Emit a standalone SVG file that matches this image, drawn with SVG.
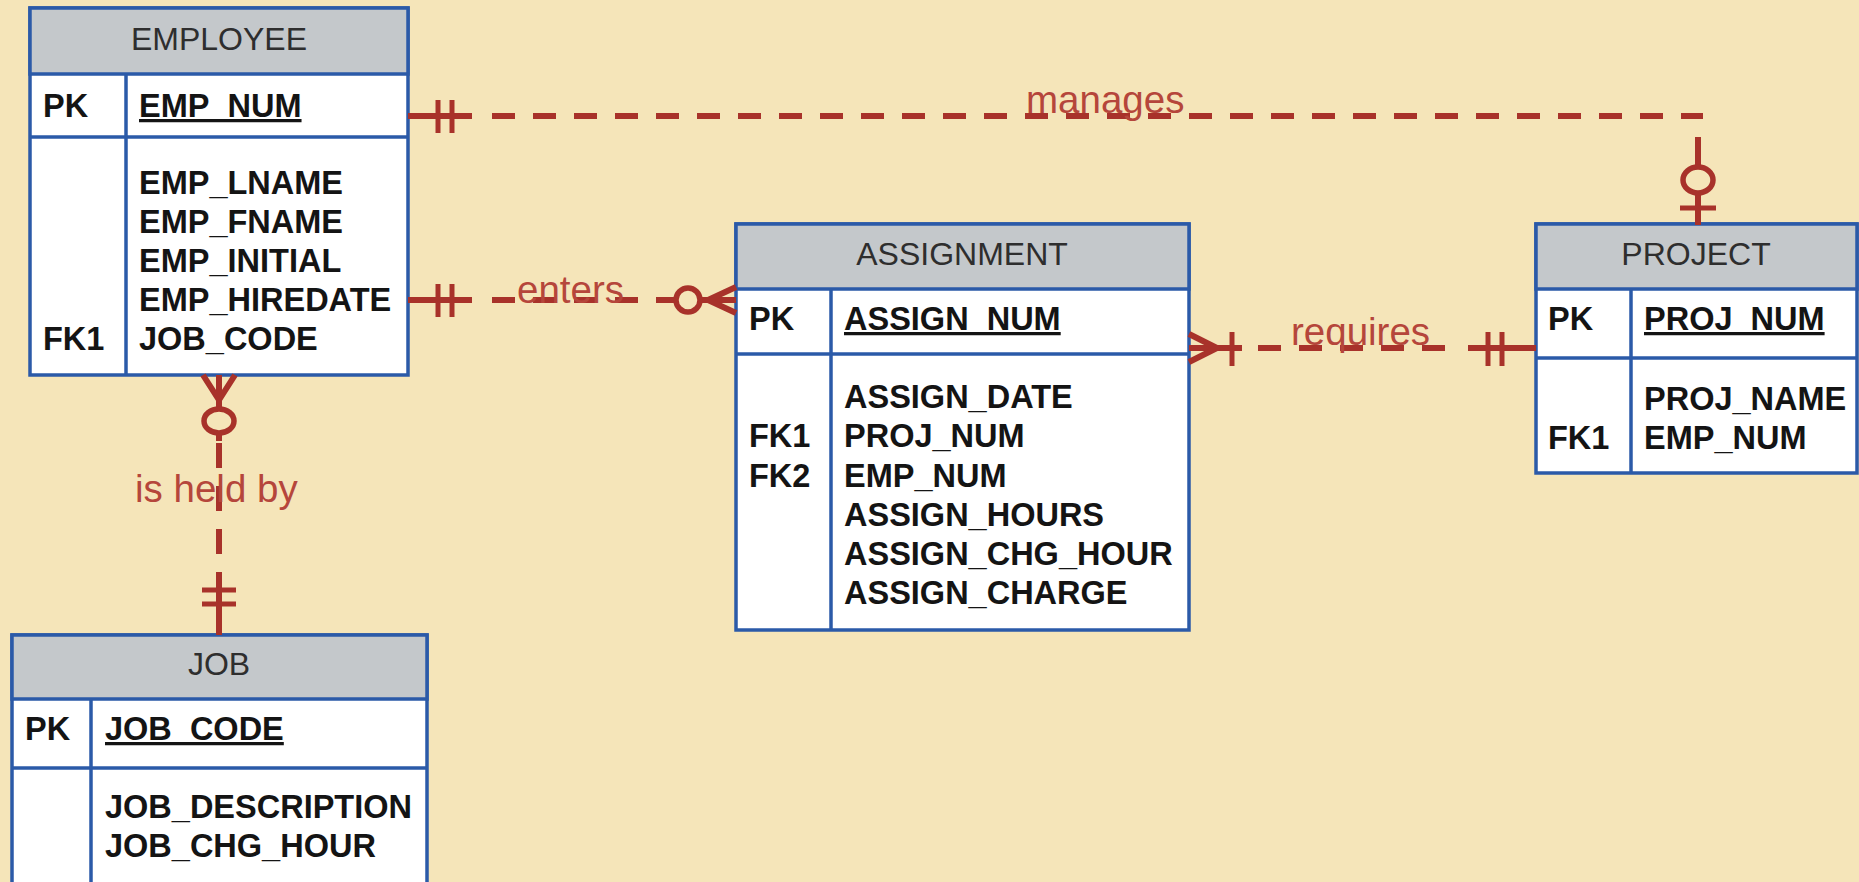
<svg xmlns="http://www.w3.org/2000/svg" width="1859" height="882" viewBox="0 0 1859 882">
<style>
.bg{fill:#f5e5b9}
.box{fill:#ffffff;stroke:#2b5aa8;stroke-width:3.5}
.hdr{fill:#c4c8cb;stroke:#2b5aa8;stroke-width:3.5}
.sep{stroke:#2b5aa8;stroke-width:3.5;fill:none}
.title{font-family:"Liberation Sans",Arial,sans-serif;font-size:32px;fill:#2e2e2e;text-anchor:middle}
.attr{font-family:"Liberation Sans",Arial,sans-serif;font-size:32.5px;font-weight:bold;fill:#141414}
.pk{text-decoration:underline}
.ln{stroke:#a8322a;stroke-width:6;fill:none}
.dash{stroke:#a8322a;stroke-width:6;fill:none;stroke-dasharray:23 18}
.bar{stroke:#a8322a;stroke-width:5;fill:none}
.ring{stroke:#a8322a;stroke-width:5.5;fill:#f5e5b9}
.lbl{font-family:"Liberation Sans",Arial,sans-serif;font-size:38.5px;fill:#b5463b}
</style>
<rect class="bg" x="0" y="0" width="1859" height="882"/>

<g id="employee">
<rect class="box" x="30" y="8" width="378" height="367"/>
<rect class="hdr" x="30" y="8" width="378" height="66"/>
<line class="sep" x1="30" y1="137" x2="408" y2="137"/>
<line class="sep" x1="126" y1="74" x2="126" y2="375"/>
<text class="title" x="219" y="50">EMPLOYEE</text>
<text class="attr" x="43" y="117">PK</text>
<text class="attr pk" x="139" y="117">EMP_NUM</text>
<text class="attr" x="139" y="194">EMP_LNAME</text>
<text class="attr" x="139" y="233">EMP_FNAME</text>
<text class="attr" x="139" y="272">EMP_INITIAL</text>
<text class="attr" x="139" y="311">EMP_HIREDATE</text>
<text class="attr" x="43" y="350">FK1</text>
<text class="attr" x="139" y="350">JOB_CODE</text>
</g>

<g id="assignment">
<rect class="box" x="736" y="224" width="453" height="406"/>
<rect class="hdr" x="736" y="224" width="453" height="65"/>
<line class="sep" x1="736" y1="354" x2="1189" y2="354"/>
<line class="sep" x1="831" y1="289" x2="831" y2="630"/>
<text class="title" x="962" y="265">ASSIGNMENT</text>
<text class="attr" x="749" y="330">PK</text>
<text class="attr pk" x="844" y="330">ASSIGN_NUM</text>
<text class="attr" x="844" y="408">ASSIGN_DATE</text>
<text class="attr" x="749" y="447">FK1</text>
<text class="attr" x="844" y="447">PROJ_NUM</text>
<text class="attr" x="749" y="487">FK2</text>
<text class="attr" x="844" y="487">EMP_NUM</text>
<text class="attr" x="844" y="526">ASSIGN_HOURS</text>
<text class="attr" x="844" y="565">ASSIGN_CHG_HOUR</text>
<text class="attr" x="844" y="604">ASSIGN_CHARGE</text>
</g>

<g id="project">
<rect class="box" x="1536" y="224" width="321" height="249"/>
<rect class="hdr" x="1536" y="224" width="321" height="65"/>
<line class="sep" x1="1536" y1="358" x2="1857" y2="358"/>
<line class="sep" x1="1631" y1="289" x2="1631" y2="473"/>
<text class="title" x="1696" y="265">PROJECT</text>
<text class="attr" x="1548" y="330">PK</text>
<text class="attr pk" x="1644" y="330">PROJ_NUM</text>
<text class="attr" x="1644" y="410">PROJ_NAME</text>
<text class="attr" x="1548" y="449">FK1</text>
<text class="attr" x="1644" y="449">EMP_NUM</text>
</g>

<g id="job">
<rect class="box" x="12" y="635" width="415" height="260"/>
<rect class="hdr" x="12" y="635" width="415" height="64"/>
<line class="sep" x1="12" y1="768" x2="427" y2="768"/>
<line class="sep" x1="91" y1="699" x2="91" y2="895"/>
<text class="title" x="219" y="675">JOB</text>
<text class="attr" x="25" y="740">PK</text>
<text class="attr pk" x="105" y="740">JOB_CODE</text>
<text class="attr" x="105" y="818">JOB_DESCRIPTION</text>
<text class="attr" x="105" y="857">JOB_CHG_HOUR</text>
</g>

<g id="connectors">
<g id="manages">
<line class="ln" x1="408" y1="116" x2="472" y2="116"/>
<line class="bar" x1="438" y1="100" x2="438" y2="133"/>
<line class="bar" x1="452" y1="100" x2="452" y2="133"/>
<line class="dash" x1="492" y1="116" x2="1703" y2="116"/>
<line class="ln" x1="1698" y1="137" x2="1698" y2="225"/>
<ellipse class="ring" cx="1698" cy="180" rx="15" ry="13"/>
<line class="bar" x1="1680" y1="208" x2="1716" y2="208"/>
<text class="lbl" x="1026" y="113">manages</text>
</g>
<g id="enters">
<line class="ln" x1="408" y1="300" x2="472" y2="300"/>
<line class="bar" x1="438" y1="284" x2="438" y2="317"/>
<line class="bar" x1="452" y1="284" x2="452" y2="317"/>
<line class="dash" x1="492" y1="300" x2="674" y2="300"/>
<line class="ln" x1="700" y1="300" x2="736" y2="300"/>
<path class="ln" d="M736 287 L708 300 L736 313"/>
<circle class="ring" cx="688" cy="300" r="12"/>
<text class="lbl" x="517" y="303">enters</text>
</g>
<g id="requires">
<line class="ln" x1="1189" y1="348" x2="1242" y2="348"/>
<path class="ln" d="M1189 334 L1217 348 L1189 362"/>
<line class="bar" x1="1232" y1="332" x2="1232" y2="366"/>
<line class="dash" x1="1258" y1="348" x2="1455" y2="348"/>
<line class="ln" x1="1468" y1="348" x2="1536" y2="348"/>
<line class="bar" x1="1488" y1="332" x2="1488" y2="366"/>
<line class="bar" x1="1502" y1="332" x2="1502" y2="366"/>
<text class="lbl" x="1291" y="345">requires</text>
</g>
<g id="isheldby">
<path class="ln" d="M203 375 L219 400 L235 375 M219 375 L219 409"/>
<ellipse class="ring" cx="219" cy="421" rx="15" ry="12"/>
<line class="ln" x1="219" y1="433" x2="219" y2="441"/>
<line class="dash" x1="219" y1="443" x2="219" y2="556" style="stroke-dasharray:25 18"/>
<line class="ln" x1="219" y1="572" x2="219" y2="635"/>
<line class="bar" x1="202" y1="590" x2="236" y2="590"/>
<line class="bar" x1="202" y1="604" x2="236" y2="604"/>
<text class="lbl" x="135" y="502">is held by</text>
</g>
</g>
</svg>
